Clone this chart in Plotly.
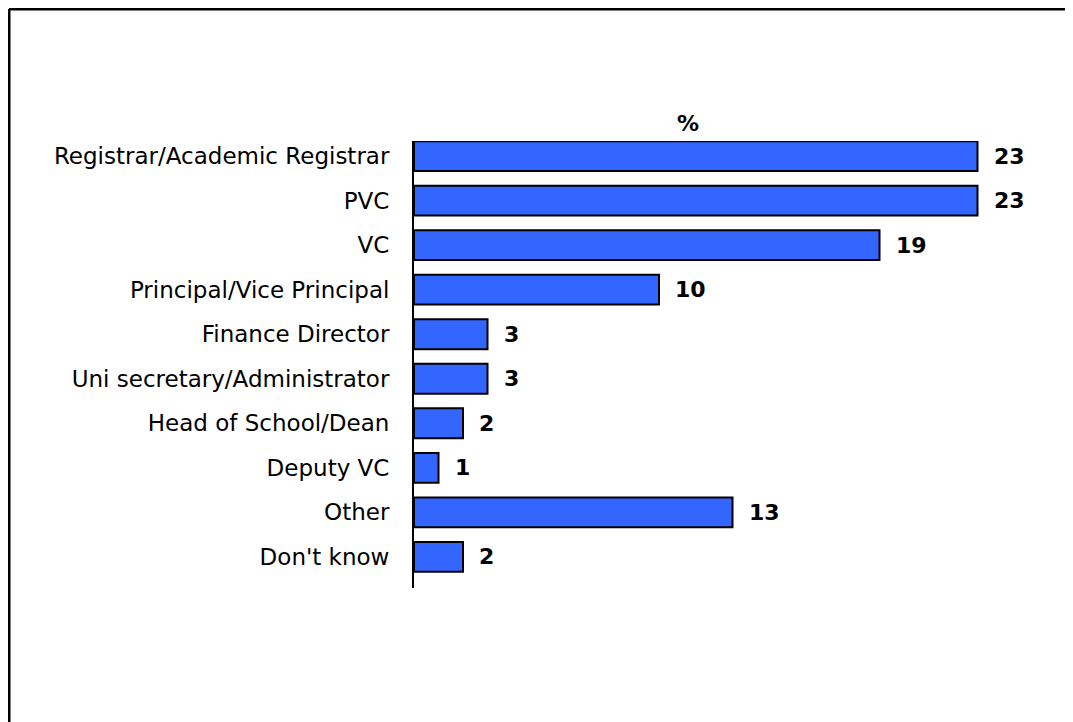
import plotly.graph_objects as go

roles = [
    "Registrar/Academic Registrar",
    "PVC",
    "VC",
    "Principal/Vice Principal",
    "Finance Director",
    "Uni secretary/Administrator",
    "Head of School/Dean",
    "Deputy VC",
    "Other",
    "Don't know",
]
percent = [23, 23, 19, 10, 3, 3, 2, 1, 13, 2]

FONT = "DejaVu Sans, Verdana, sans-serif"
SIZE = 22

fig = go.Figure()
fig.add_trace(go.Bar(
    x=percent,
    y=roles,
    orientation="h",
    width=0.67,
    marker=dict(color="#3366FF", line=dict(color="#000000", width=2)),
    hoverinfo="x+y",
))

# value labels to the right of each bar
for r, p in zip(roles, percent):
    fig.add_annotation(
        x=p, y=r, text="<b>%d</b>" % p, showarrow=False,
        xanchor="left", xshift=14,
        font=dict(family=FONT, size=SIZE, color="#000000"),
    )

fig.add_annotation(
    x=0.43, y=1.0, xref="paper", yref="paper", yanchor="bottom", yshift=3,
    text="<b>%</b>", showarrow=False,
    font=dict(family=FONT, size=SIZE, color="#000000"),
)

# frame lines (left + top)
fig.add_shape(type="line", xref="paper", yref="paper",
              x0=-0.6358, x1=1.04, y0=1.2953, y1=1.2953,
              line=dict(color="#000000", width=3))
fig.add_shape(type="line", xref="paper", yref="paper",
              x0=-0.6358, x1=-0.6358, y0=1.2953, y1=-0.4,
              line=dict(color="#000000", width=3))

fig.update_layout(
    width=1065, height=714,
    margin=dict(l=406, r=22, t=133, b=134),
    paper_bgcolor="white", plot_bgcolor="white",
    showlegend=False,
    font=dict(family=FONT, size=SIZE, color="#000000"),
    bargap=0.33,
    xaxis=dict(range=[0, 26], visible=False, fixedrange=True),
    yaxis=dict(
        type="category", categoryorder="array", categoryarray=roles,
        range=[9.7, -0.34],
        showline=True, linecolor="#000000", linewidth=2,
        ticks="", ticklabelstandoff=18, showgrid=False, zeroline=False,
        tickfont=dict(family=FONT, size=23, color="#000000"),
    ),
)

fig.write_html("out.html")
